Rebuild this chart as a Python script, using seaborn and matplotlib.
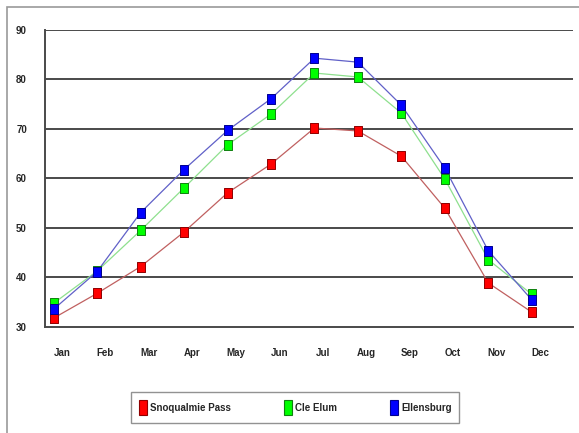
import numpy as np
import pandas as pd
import seaborn as sns
import matplotlib.pyplot as plt
from matplotlib.patches import Patch, Rectangle

months = ["Jan", "Feb", "Mar", "Apr", "May", "Jun", "Jul", "Aug", "Sep", "Oct", "Nov", "Dec"]
snoqualmie = [31.8, 36.8, 42.2, 49.2, 57.1, 62.9, 70.2, 69.6, 64.5, 54.0, 38.9, 33.0]
cle_elum = [34.8, 41.3, 49.5, 58.1, 66.8, 73.0, 81.3, 80.5, 73.2, 59.9, 43.6, 36.6]
ellensburg = [33.6, 41.2, 53.1, 61.8, 69.7, 76.1, 84.3, 83.5, 74.8, 62.1, 45.4, 35.5]
series_names = ["Snoqualmie Pass", "Cle Elum", "Ellensburg"]

# 线色与标记色
line_colors = ["#c06060", "#8ee08e", "#6060c8"]
face_colors = ["#ff0000", "#00ff00", "#0000ff"]
edge_colors = ["#900000", "#108010", "#000090"]

sns.set_style("white")
plt.rcParams['font.family'] = ['Liberation Sans', 'DejaVu Sans']

fig = plt.figure(figsize=(5.79, 4.33), dpi=100)
ax = fig.add_axes([0.0777, 0.2448, 0.912, 0.686])

# 外框
fig.patches.append(Rectangle((7 / 579, -0.05), 1.1, 1 - 7 / 433 + 0.05, transform=fig.transFigure,
                             fill=False, edgecolor="#9a9a9a", linewidth=1.2))

# 水平网格线
for v in range(40, 91, 10):
    ax.axhline(v, color="#4a4a4a", linewidth=1.4, zorder=1)

marker = [(-0.8, -1), (0.8, -1), (0.8, 1), (-0.8, 1), (-0.8, -1)]
xs = np.arange(len(months)) + 0.2
for name, vals, lc, fc, ec in zip(series_names, [snoqualmie, cle_elum, ellensburg],
                                  line_colors, face_colors, edge_colors):
    df = pd.DataFrame({"x": xs, "y": vals})
    sns.lineplot(data=df, x="x", y="y", ax=ax, color=lc, linewidth=0.9, zorder=3)
    ax.plot(xs, vals, linestyle="none", marker=marker, markersize=7.5,
            markerfacecolor=fc, markeredgecolor=ec, markeredgewidth=0.7, zorder=4)

ax.set_xlim(0, 12.15)
ax.set_ylim(30, 90)
ax.set_xlabel("")
ax.set_ylabel("")

# 刻度
ax.set_xticks(list(range(12)) + [12.15])
ax.set_xticklabels([])
ax.set_xticks(np.arange(12) + 0.39, minor=True)
ax.set_xticklabels(months, minor=True, fontsize=7, fontweight='bold')
ax.tick_params(axis='x', which='major', direction='inout', length=10, width=1.0, color="#4a4a4a")
ax.tick_params(axis='x', which='minor', length=0, pad=15)
ax.set_yticks(range(30, 91, 10))
ax.set_yticklabels([str(v) for v in range(30, 91, 10)], fontsize=7, fontweight='bold')
ax.tick_params(axis='y', direction='out', length=3, width=1.4, color="#4a4a4a", pad=10)

for side in ["top", "right"]:
    ax.spines[side].set_visible(False)
for side in ["left", "bottom"]:
    ax.spines[side].set_edgecolor("#4a4a4a")
    ax.spines[side].set_linewidth(1.4)

# 图例
handles = [Patch(facecolor=fc, edgecolor=ec, linewidth=0.8) for fc, ec in zip(face_colors, edge_colors)]
leg = fig.legend(handles, series_names, loc='center', bbox_to_anchor=(0.51, 0.059), ncol=3,
                 frameon=True, fancybox=False, prop={'weight': 'bold', 'size': 7},
                 handlelength=0.8, handleheight=2.0, columnspacing=5.5, handletextpad=0.3,
                 borderpad=0.8, edgecolor="#777777")
leg.get_frame().set_linewidth(1.0)

plt.savefig("out.png", dpi=100)
